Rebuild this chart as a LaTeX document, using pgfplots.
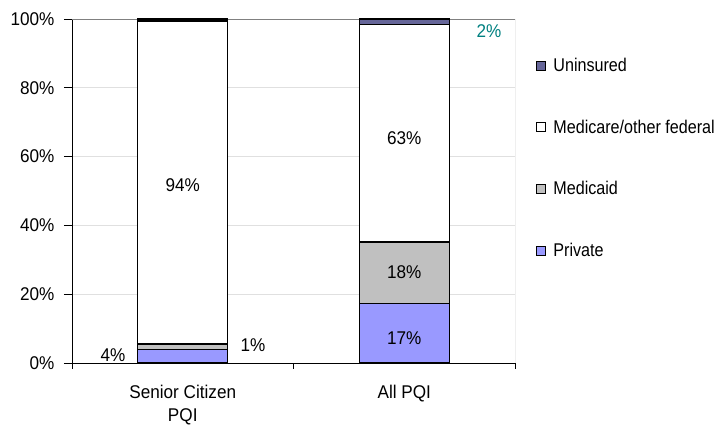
\documentclass[border=0pt]{standalone}
\usepackage{fontspec}
\setmainfont[FakeStretch=0.93]{Liberation Sans}
\newfontfamily\legfont[FakeStretch=0.875]{Liberation Sans}
\usepackage{pgfplots}
\pgfplotsset{compat=1.18}

\definecolor{private}{HTML}{9999FF}
\definecolor{medicaid}{HTML}{C0C0C0}
\definecolor{uninsured}{HTML}{666699}
\definecolor{tealtxt}{HTML}{008080}

\begin{document}
\begin{tikzpicture}[font=\fontsize{18.5}{23}\selectfont]
\begin{axis}[
    scale only axis,
    width=443bp, height=344bp,
    ybar stacked,
    bar width=90bp,
    xmin=0.5, xmax=2.5,
    ymin=0, ymax=100,
    axis x line*=bottom,
    axis y line*=left,
    axis line style={line width=0.9bp, black},
    font=\fontsize{18.5}{23}\selectfont,
    /pgf/number format/assume math mode=true,
    xtick={1,2},
    xticklabels={{Senior Citizen\\PQI}, {All PQI}},
    xticklabel style={align=center, yshift=-11bp},
    major x tick style={draw=none},
    minor xtick={0.5,1.5,2.5},
    minor x tick style={black, line width=0.9bp},
    minor tick length=6bp,
    ytick={0,20,...,100},
    yticklabel={\pgfmathprintnumber{\tick}\%},
    yticklabel style={xshift=-6bp},
    major y tick style={black, line width=0.9bp},
    major tick length=8bp,
    tick align=outside,
    ymajorgrids,
    grid style={color=black!12, line width=0.6bp},
    every axis plot/.append style={draw=black, line width=1.2bp},
    reverse legend,
    legend style={at={(rel axis cs:1,1)}, anchor=north west, xshift=21bp, yshift=-37bp,
        draw=none, fill=none, inner sep=0pt, row sep=42.8bp,
        font=\legfont\fontsize{18.5}{22}\selectfont},
    legend cell align=left,
    legend image code/.code={\draw[#1, draw=black, line width=0.8bp] (0bp,-4.5bp) rectangle (9bp,4.5bp);
        \path (0bp,0bp) (14bp,0bp);},
]
% Private
\addplot[fill=private] coordinates {(1,3.9) (2,17.2)};
\addlegendentry{Private}
% Medicaid
\addplot[fill=medicaid] coordinates {(1,1.6) (2,18.0)};
\addlegendentry{Medicaid}
% Medicare/other federal
\addplot[fill=white] coordinates {(1,93.9) (2,63.1)};
\addlegendentry{Medicare/other federal}
% Uninsured
\addplot[fill=uninsured] coordinates {(1,0.6) (2,1.7)};
\addlegendentry{Uninsured}

\draw[black!50, line width=0.9bp] (rel axis cs:0,1) -- (rel axis cs:1,1) -- (rel axis cs:1,0);

\coordinate (l94) at (axis cs:1,51.7);
\coordinate (l63) at (axis cs:2,65.4);
\coordinate (l18) at (axis cs:2,26.5);
\coordinate (l17) at (axis cs:2,7.3);
\coordinate (l4) at (axis cs:0.685,2.3);
\coordinate (l1) at (axis cs:1.317,5.2);
\coordinate (l2) at (axis cs:2.383,96.5);
\end{axis}
\node at (l94) {94\%};
\node at (l63) {63\%};
\node at (l18) {18\%};
\node at (l17) {17\%};
\node at (l4) {4\%};
\node at (l1) {1\%};
\node[text=tealtxt] at (l2) {2\%};
\path (current axis.south west) ++(-72bp,-63bp) rectangle ++(718bp,426bp);
\end{tikzpicture}
\end{document}
